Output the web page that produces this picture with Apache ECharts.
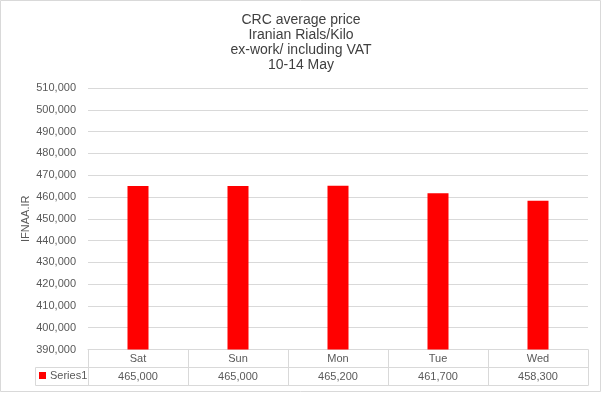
<!DOCTYPE html>
<html>
<head>
<meta charset="utf-8">
<script src="https://cdn.jsdelivr.net/npm/echarts@6/dist/echarts.min.js"></script>
<style>html,body{margin:0;padding:0;background:#fff}#c{width:602px;height:393px}</style>
</head>
<body>
<div id="c"></div>
<script>
const titleLines = ['CRC average price', 'Iranian Rials/Kilo', 'ex-work/ including VAT', '10-14 May'];
const categories = ['Sat', 'Sun', 'Mon', 'Tue', 'Wed'];
const seriesName = 'Series1';
const values = [465000, 465000, 465200, 461700, 458300];
const yMin = 390000, yMax = 510000, yStep = 10000;
const yAxisName = 'IFNAA.IR';

const fmt = v => Number(v).toLocaleString('en-US');
const gridC = '#d9d9d9';
const txt = '#595959';
const font = 'Liberation Sans, Arial, sans-serif';

const chart = echarts.init(document.getElementById('c'));
chart.setOption({
  animation: false,
  backgroundColor: '#fff',
  textStyle: { fontFamily: font },
  title: {
    text: titleLines.join('\n'),
    left: 'center',
    top: 8,
    textStyle: { fontSize: 14, fontWeight: 'normal', color: '#404040', lineHeight: 15, fontFamily: font }
  },
  legend: {
    data: [seriesName],
    left: 39, top: 370, padding: 0,
    icon: 'rect', itemWidth: 7, itemHeight: 7, itemGap: 4,
    textStyle: { fontSize: 11, color: txt, fontFamily: font, padding: [0, 0, 0, -1] }
  },
  grid: { left: 88, right: 14, top: 88, bottom: 43.5, containLabel: false },
  xAxis: [
    {
      type: 'category', data: categories, position: 'bottom',
      axisLine: { show: true, lineStyle: { color: gridC } },
      axisTick: { show: true, interval: 0, length: 36, lineStyle: { color: gridC } },
      axisLabel: { margin: 4, fontSize: 11, color: txt, fontFamily: font, interval: 0 }
    },
    {
      type: 'category', data: values.map(fmt), position: 'bottom', offset: 18,
      axisLine: { show: true, lineStyle: { color: gridC } },
      axisTick: { show: false },
      axisLabel: { margin: 4, fontSize: 11, color: txt, fontFamily: font, interval: 0 }
    },
    {
      type: 'category', data: categories, position: 'bottom', offset: 36,
      axisLine: { show: true, lineStyle: { color: gridC } },
      axisTick: { show: false },
      axisLabel: { show: false }
    }
  ],
  yAxis: {
    type: 'value', min: yMin, max: yMax, interval: yStep,
    name: yAxisName, nameLocation: 'middle', nameRotate: 90, nameGap: 57,
    nameMoveOverlap: false,
    nameTextStyle: { fontSize: 11, color: txt, fontFamily: font },
    axisLine: { show: false }, axisTick: { show: false },
    axisLabel: { formatter: fmt, margin: 12, fontSize: 11, color: txt, fontFamily: font },
    splitLine: { lineStyle: { color: gridC } }
  },
  series: [{
    name: seriesName, type: 'bar', data: values, barWidth: 21,
    itemStyle: { color: '#ff0000' }
  }],
  graphic: [
    { type: 'polyline', shape: { points: [[88, 367.5], [35.5, 367.5], [35.5, 385.5], [88, 385.5]] },
      style: { stroke: gridC, fill: null, lineWidth: 1 }, silent: true },
    { type: 'rect', shape: { x: 0.5, y: 0.5, width: 600, height: 391 },
      style: { stroke: gridC, fill: null, lineWidth: 1 }, silent: true }
  ]
});
</script>
</body>
</html>
